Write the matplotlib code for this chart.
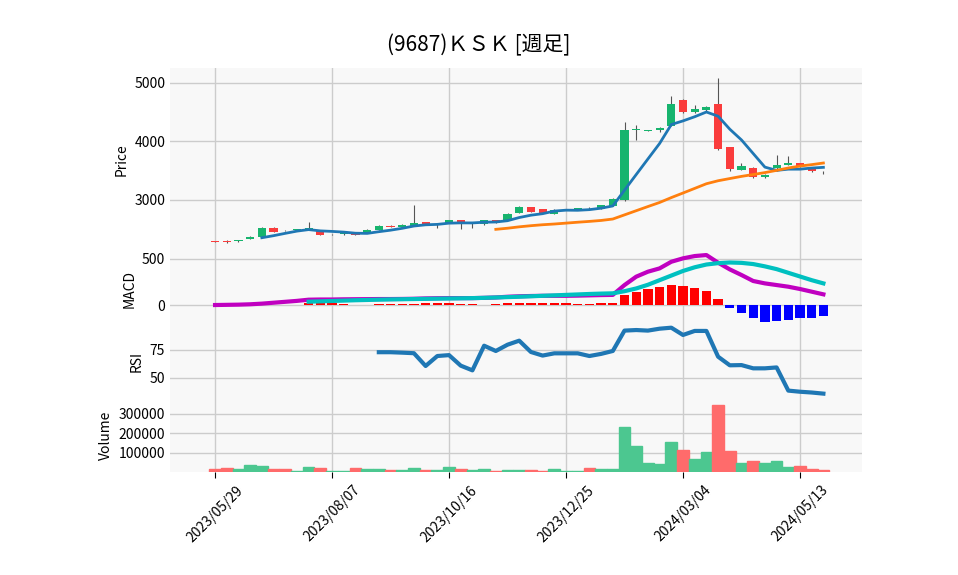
import matplotlib
matplotlib.use("Agg")
import matplotlib.pyplot as plt
import numpy as np
import pandas as pd

dates = pd.date_range("2023-05-29", periods=53, freq="7D")
opens = [2290,2305,2295,2330,2375,2520,2485,2485,2505,2470,2415,2420,2450,2445,2490,2560,2540,2560,2625,2590,2605,2650,2600,2585,2650,2655,2780,2875,2840,2760,
         2840,2845,2870,2845,2900,3000,4200,4185,4190,4265,4710,4500,4535,4640,3900,3520,3545,3390,3540,3605,3635,3560,3495]
closes = [2285,2280,2315,2375,2520,2460,2480,2505,2505,2410,2415,2420,2410,2490,2555,2545,2580,2605,2595,2590,2650,2605,2600,2655,2610,2760,2875,2800,2785,2830,
          2840,2865,2855,2910,3020,4190,4200,4185,4235,4640,4500,4555,4590,3875,3530,3580,3395,3430,3595,3635,3580,3490,3490]
highs = [2300,2310,2320,2380,2530,2530,2490,2510,2620,2480,2425,2430,2460,2500,2565,2570,2590,2920,2630,2600,2660,2660,2610,2665,2660,2770,2890,2885,2850,2840,
         2845,2870,2875,2915,3040,4330,4290,4200,4250,4780,4720,4620,4600,5080,3910,3630,3560,3440,3765,3760,3640,3570,3500]
lows = [2280,2270,2290,2325,2370,2455,2475,2480,2495,2405,2405,2410,2400,2440,2485,2540,2535,2555,2590,2520,2600,2510,2520,2580,2605,2650,2775,2795,2780,2755,
        2835,2840,2850,2840,2895,2990,4020,4175,4170,4260,4490,4490,4520,3860,3500,3510,3380,3380,3500,3600,3570,3480,3450]
volume = [15000,20000,15000,36000,32000,15000,15000,5000,26000,20000,5000,5000,20000,15000,15000,10000,10000,20000,10000,10000,26000,15000,10000,15000,4000,9000,9000,9000,4000,15000,
          4000,4000,20000,15000,15000,230000,133000,46000,41000,154000,113000,67000,103000,344000,108000,46000,56000,46000,56000,26000,30000,15000,10000]
macd = [0,2,4,8,15,25,35,45,58,60,60,62,63,64,65,65,66,68,72,74,75,75,75,78,82,90,95,98,100,100,100,102,105,108,110,
        217,308,362,398,470,507,532,543,460,387,326,261,235,217,199,174,145,116]
signal = [np.nan]*8 + [36,40,44,48,52,55,58,61,63,65,67,69,71,73,75,78,82,86,90,95,100,105,110,115,120,124,127,
          150,180,220,270,320,370,410,440,455,462,458,445,420,390,350,310,270,235]
hist = [np.nan]*8 + [25,25,18,7,0,0,10,10,10,10,22,22,18,10,10,0,10,22,22,22,22,22,18,10,10,22,22,
        105,145,174,200,217,206,185,152,65,-29,-83,-145,-181,-174,-163,-145,-138,-116]
rsi = [np.nan]*14 + [73,73,72.6,72.1,60.7,69.6,70.4,61,56.8,78.8,74.1,79.7,83.3,73.2,70,72,72,72,69.6,71.5,74.1,
       92.3,92.8,92.3,94,94.9,88.4,92,92,69,61.3,61.5,58.6,58.6,59.4,38.7,37.7,37,36]
tick_idx = [0,10,20,30,40,50]

x = np.arange(len(closes))
cl = pd.Series(closes)
ma5 = cl.rolling(5).mean()
ma25 = cl.rolling(25).mean()

plt.rcParams["font.family"] = ["Noto Sans CJK JP", "DejaVu Sans"]
fig = plt.figure(figsize=(9.58, 5.75), dpi=100)
W, H = 958, 575
def ax_at(top, bot):
    return fig.add_axes([170/W, 1-bot/H, (862-170)/W, (bot-top)/H])
a1 = ax_at(68, 252); a2 = ax_at(252, 325); a3 = ax_at(325, 398); a4 = ax_at(398, 472)
for a in (a1, a2, a3, a4):
    a.set_facecolor("#f8f8f8")
    a.grid(True, color="#cccccc", lw=1)
    a.set_axisbelow(True)
    a.set_xlim(-3.85, 55.3)
    a.set_xticks(tick_idx)
    for s in a.spines.values():
        s.set_visible(False)
    a.tick_params(length=0, labelsize=10)
for a in (a1, a2, a3):
    a.tick_params(labelbottom=False)

up, dn = "#17b46e", "#fa3c3c"
for i in x:
    c = up if closes[i] >= opens[i] else dn
    a1.vlines(i, lows[i], highs[i], color="#555555", lw=0.8, zorder=2)
    lo, hi = sorted([opens[i], closes[i]])
    a1.bar(i, max(hi-lo, 8), bottom=lo, width=0.7, color=c, zorder=3)
a1.plot(x, ma5, color="#1f77b4", lw=2, zorder=4)
a1.plot(x, ma25, color="#ff7f0e", lw=2, zorder=4)
a1.set_ylim(2111, 5256); a1.set_yticks([3000, 4000, 5000]); a1.set_ylabel("Price")

h = np.array(hist, dtype=float)
a2.bar(x, h, width=0.8, color=["red" if v >= 0 else "blue" for v in np.nan_to_num(h)])
a2.plot(x, macd, color="#c000c0", lw=3)
a2.plot(x, signal, color="#00c0c0", lw=3)
a2.set_ylim(-217, 576); a2.set_yticks([0, 500]); a2.set_ylabel("MACD")

a3.plot(x, rsi, color="#1f77b4", lw=3)
a3.set_ylim(32.1, 97.3); a3.set_yticks([50, 75]); a3.set_ylabel("RSI")

vc = ["#4cc790" if closes[i] >= opens[i] else "#ff6b6b" for i in x]
a4.bar(x, volume, width=1.0, color=vc, edgecolor=vc)
a4.set_ylim(0, 382000); a4.set_yticks([100000, 200000, 300000]); a4.set_ylabel("Volume")
a4.set_xticklabels([dates[i].strftime("%Y/%m/%d") for i in tick_idx], rotation=45, ha="center")
a4.tick_params(axis="x", length=4, pad=4)

fig.text(0.5, 1-45/H, "(9687)ＫＳＫ [週足]", ha="center", va="center", fontsize=15)
fig.savefig("out.png", dpi=100)
